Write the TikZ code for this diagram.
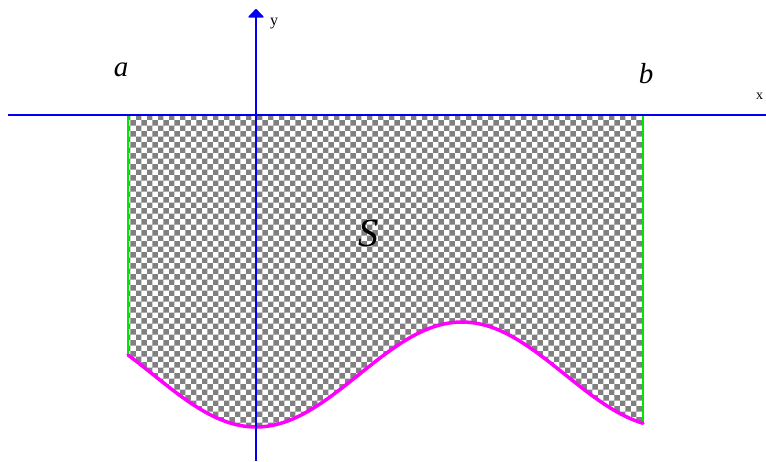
\documentclass[tikz,border=0pt]{standalone}
\usepackage{fontspec}
\setmainfont{Liberation Serif}
\usetikzlibrary{patterns,arrows.meta}
\begin{document}
\begin{tikzpicture}[x=1pt,y=-1pt,
  axis/.style={draw={rgb,255:red,0;green,0;blue,240},line width=1.6pt},
  side/.style={draw={rgb,255:red,0;green,230;blue,0},line width=1.3pt},
  curve/.style={draw={rgb,255:red,255;green,0;blue,255},line width=3.5pt,line cap=round},
  lbl/.style={inner sep=0pt}]
\useasboundingbox (0,0) rectangle (766,461);
\def\fy#1{374.5+52.5*cos(((#1)-256)/206*180)}
% region
\fill[pattern=checkerboard,pattern color=black!50] (128,115) -- plot[domain=128:643,samples=120,smooth] (\x,{\fy{\x}}) -- (643,115) -- cycle;
\coordinate (aTop) at (128,115);
\coordinate (aBot) at (128,{\fy{128}});
\coordinate (bTop) at (643,115);
\coordinate (bBot) at (643,{\fy{643}});
\draw[side] (aTop) -- (aBot);
\draw[side] (bTop) -- (bBot);
\draw[curve] plot[domain=128:643,samples=120,smooth] (\x,{\fy{\x}});
% axes
\coordinate (xl) at (8,115);
\coordinate (xr) at (766,115);
\coordinate (yb) at (256,461);
\coordinate (yt) at (256,9);
\draw[axis] (xl) -- (xr);
\draw[axis,-{Triangle[length=9pt,width=17pt,round]}] (yb) -- (yt);
% labels
\node[lbl,font=\fontsize{16}{16}\selectfont] (ylab) at (274,24) {y};
\node[lbl,font=\fontsize{14}{14}\selectfont,anchor=west] (xlab) at (756,96) {x};
\node[lbl,font=\fontsize{29}{29}\selectfont\itshape] (alab) at (121,70) {a};
\node[lbl,font=\fontsize{29}{29}\selectfont\itshape] (blab) at (646,74) {b};
\node[lbl,font=\fontsize{40}{40}\selectfont\itshape] (slab) at (368,233) {S};
\end{tikzpicture}
\end{document}
